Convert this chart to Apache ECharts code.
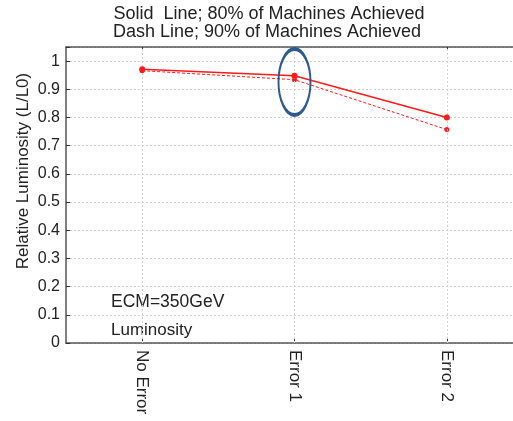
<!DOCTYPE html>
<html>
<head>
<meta charset="utf-8">
<script src="https://cdn.jsdelivr.net/npm/echarts@6/dist/echarts.min.js"></script>
<style>
  html, body { margin: 0; padding: 0; background: #fff; overflow: hidden; }
  #chart { width: 530px; height: 421px; }
</style>
</head>
<body>
<div id="chart"></div>
<script>
// Relative luminosity for each error scenario
const categories = ['No Error', 'Error 1', 'Error 2'];
const solid80 = [0.971, 0.948, 0.800];   // 80% of machines achieved
const dash90 = [0.966, 0.934, 0.757];    // 90% of machines achieved
const yTicks = [0, 0.1, 0.2, 0.3, 0.4, 0.5, 0.6, 0.7, 0.8, 0.9, 1];
const titleLines = ['Solid  Line; 80% of Machines Achieved', 'Dash Line; 90% of Machines Achieved'];
const yAxisName = 'Relative Luminosity (L/L0)';
const notes = ['ECM=350GeV', 'Luminosity'];
const highlightCategory = 'Error 1';

const FONT = 'Liberation Sans, Arial, sans-serif';
// The plot box runs past the right edge of the page, so the canvas is wider than the window
const chart = echarts.init(document.getElementById('chart'), null, { renderer: 'canvas', width: 530, height: 421 });

const axisGray = '#555';
const gridStyle = { color: '#d0d0d0', type: [2, 2], width: 1 };
const red = '#ff1a1a';

chart.setOption({
  animation: false,
  grid: { show: false, left: 66, top: 47, width: 457, height: 296 },
  xAxis: [{
    type: 'category',
    data: categories,
    boundaryGap: true,
    axisLine: { show: true, lineStyle: { color: axisGray, width: 1.5 } },
    axisTick: { show: true, inside: true, alignWithLabel: true, length: 4, lineStyle: { color: '#333' } },
    axisLabel: { rotate: -90, fontFamily: FONT, fontSize: 17, color: '#222', margin: 7, interval: 0 },
    splitLine: { show: false }
  }, {
    type: 'category',
    data: categories,
    position: 'top',
    boundaryGap: true,
    axisLine: { show: true, lineStyle: { color: axisGray, width: 1.5 } },
    axisTick: { show: true, inside: true, alignWithLabel: true, length: 4, lineStyle: { color: '#333' } },
    axisLabel: { show: false },
    splitLine: { show: false }
  }],
  yAxis: {
    type: 'value',
    min: 0,
    max: 1.05,
    interval: 0.1,
    axisLine: { show: true, lineStyle: { color: axisGray, width: 1.5 } },
    axisTick: { show: true, inside: true, length: 4, lineStyle: { color: '#333' } },
    axisLabel: {
      fontFamily: FONT, fontSize: 16, color: '#222', margin: 6,
      formatter: v => (yTicks.some(t => Math.abs(t - v) < 1e-6) ? String(Math.round(v * 10) / 10) : '')
    },
    splitLine: { show: true, lineStyle: gridStyle }
  },
  series: [{
    // dotted vertical grid lines through each category centre, kept beneath the data
    name: 'grid',
    type: 'line',
    data: [],
    silent: true,
    z: 0,
    markLine: {
      silent: true,
      symbol: 'none',
      label: { show: false },
      lineStyle: gridStyle,
      data: categories.map(c => ({ xAxis: c }))
    }
  }, {
    name: '80%',
    type: 'line',
    data: solid80,
    symbol: 'circle',
    symbolSize: 6,
    itemStyle: { color: red, borderWidth: 0, opacity: 1 },
    lineStyle: { color: red, width: 1.5, type: 'solid' },
    z: 5
  }, {
    name: '90%',
    type: 'line',
    data: dash90,
    symbol: 'circle',
    symbolSize: 5,
    itemStyle: { color: red, borderWidth: 0, opacity: 1 },
    lineStyle: { color: red, width: 1, type: [3, 2] },
    z: 4
  }]
});

// Title, axis name, annotations and highlight ellipse placed from the axis scales
function drawOverlay() {
  const toPx = (c, v) => chart.convertToPixel({ xAxisIndex: 0, yAxisIndex: 0 }, [c, v]);
  const p0 = toPx(categories[0], 0.15);
  const p1 = toPx(categories[0], 0.05);
  const pMidY = toPx(categories[0], 0.61);
  const hi = categories.indexOf(highlightCategory);
  const pe = toPx(highlightCategory, (solid80[hi] + dash90[hi]) / 2 - 0.015);
  chart.setOption({
    graphic: [
      { type: 'text', x: 269, y: 14, style: { text: titleLines[0], font: '18px ' + FONT, fill: '#222', align: 'center', verticalAlign: 'middle' } },
      { type: 'text', x: 267, y: 32, style: { text: titleLines[1], font: '18px ' + FONT, fill: '#222', align: 'center', verticalAlign: 'middle' } },
      { type: 'text', x: 23, y: pMidY[1], rotation: Math.PI / 2, style: { text: yAxisName, font: '17px ' + FONT, fill: '#222', align: 'center', verticalAlign: 'middle' } },
      { type: 'text', x: 111, y: p0[1] + 1, style: { text: notes[0], font: '17.5px ' + FONT, fill: '#222', verticalAlign: 'middle' } },
      { type: 'text', x: 111, y: p1[1] + 1, style: { text: notes[1], font: '17px ' + FONT, fill: '#222', verticalAlign: 'middle' } },
      {
        type: 'circle',
        x: pe[0], y: pe[1],
        scaleX: 16 / 33,
        shape: { cx: 0, cy: 0, r: 33 },
        style: { fill: 'none', stroke: '#2e5a8e', lineWidth: 4, strokeNoScale: true },
        z: 10
      }
    ]
  });
}
drawOverlay();
</script>
</body>
</html>
